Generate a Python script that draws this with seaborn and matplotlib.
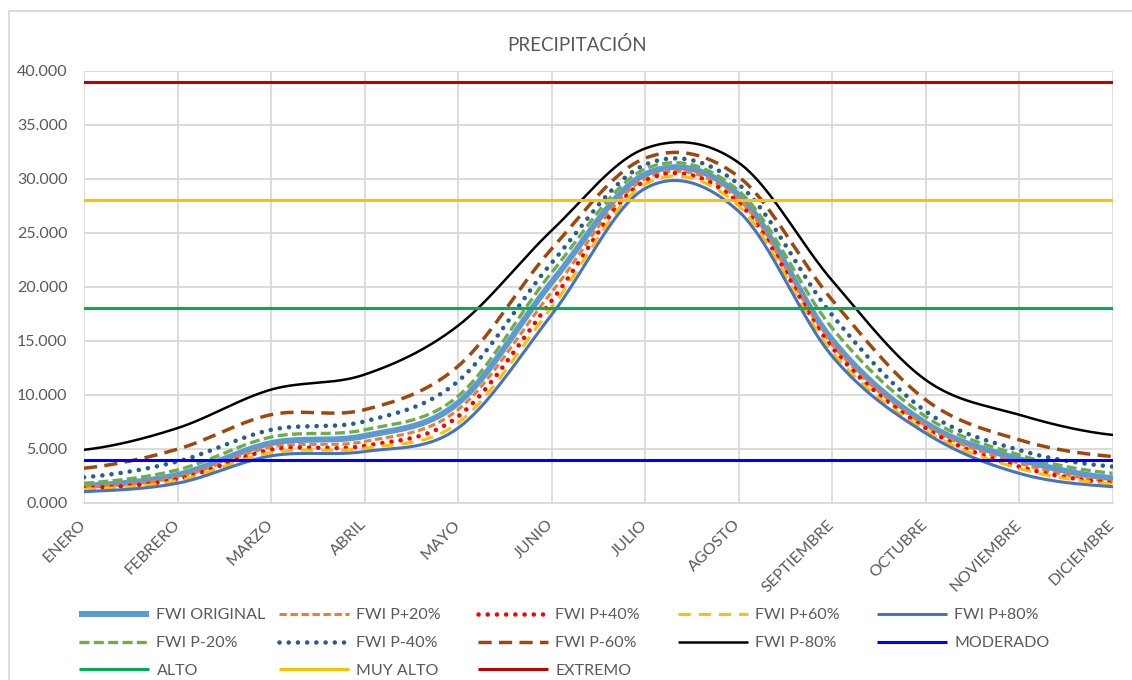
import numpy as np
import pandas as pd
import matplotlib
matplotlib.use("Agg")
import matplotlib.pyplot as plt
from matplotlib.lines import Line2D
from matplotlib.patches import Rectangle
import seaborn as sns

# ---------------- data ----------------
months = ["ENERO", "FEBRERO", "MARZO", "ABRIL", "MAYO", "JUNIO", "JULIO",
          "AGOSTO", "SEPTIEMBRE", "OCTUBRE", "NOVIEMBRE", "DICIEMBRE"]

fwi_original = [1.58, 2.60, 5.54, 6.20, 9.25, 20.4, 30.4, 28.5, 15.1, 7.40, 4.05, 2.29]
fwi_p20 = [1.45, 2.38, 5.17, 5.69, 8.63, 19.5, 30.0, 28.1, 14.7, 7.15, 3.68, 1.98]
fwi_p40 = [1.36, 2.20, 4.92, 5.29, 8.00, 18.7, 29.8, 27.8, 14.4, 6.93, 3.37, 1.85]
fwi_p60 = [1.27, 2.07, 4.67, 5.07, 7.40, 18.07, 29.5, 27.5, 14.0, 6.70, 3.20, 1.75]
fwi_p80 = [1.05, 1.83, 4.36, 4.76, 6.93, 17.4, 29.1, 27.0, 13.6, 6.47, 2.75, 1.51]
fwi_m20 = [1.83, 3.06, 6.10, 6.77, 9.87, 21.3, 30.9, 28.9, 16.2, 8.00, 4.45, 2.75]
fwi_m40 = [2.38, 3.84, 6.77, 7.55, 11.26, 22.2, 31.3, 29.5, 17.4, 8.50, 4.90, 3.37]
fwi_m60 = [3.22, 4.98, 8.17, 8.63, 12.65, 23.5, 31.9, 30.2, 18.8, 9.56, 5.85, 4.30]
fwi_m80 = [4.92, 6.93, 10.49, 11.88, 16.4, 25.2, 32.8, 31.5, 20.6, 11.4, 8.17, 6.30]

moderado = [4.0] * 12
alto = [18.0] * 12
muy_alto = [28.0] * 12
extremo = [39.0] * 12

y_ticks = [0, 5, 10, 15, 20, 25, 30, 35, 40]
y_tick_labels = [f"{v:.3f}" for v in y_ticks]

series = [
    ("FWI ORIGINAL", fwi_original),
    ("FWI P+20%", fwi_p20),
    ("FWI P+40%", fwi_p40),
    ("FWI P+60%", fwi_p60),
    ("FWI P+80%", fwi_p80),
    ("FWI P-20%", fwi_m20),
    ("FWI P-40%", fwi_m40),
    ("FWI P-60%", fwi_m60),
    ("FWI P-80%", fwi_m80),
    ("MODERADO", moderado),
    ("ALTO", alto),
    ("MUY ALTO", muy_alto),
    ("EXTREMO", extremo),
]

# ---------------- styles ----------------
styles = {
    "FWI ORIGINAL": dict(color="#5B9BD5", lw=4.3, ls="-"),
    "FWI P+20%": dict(color="#ED7D31", lw=2.2, ls=(0, (2.4, 1.2))),
    "FWI P+40%": dict(color="#FF0000", lw=3.3, ls=(0, (0.01, 2.0)), cap="round"),
    "FWI P+60%": dict(color="#FFC000", lw=2.2, ls=(0, (4.0, 2.6))),
    "FWI P+80%": dict(color="#4472C4", lw=2.2, ls="-"),
    "FWI P-20%": dict(color="#70AD47", lw=2.4, ls=(0, (3.0, 1.3))),
    "FWI P-40%": dict(color="#255E91", lw=3.3, ls=(0, (0.01, 2.0)), cap="round"),
    "FWI P-60%": dict(color="#9E480E", lw=2.5, ls=(0, (3.8, 2.1))),
    "FWI P-80%": dict(color="#000000", lw=1.8, ls="-"),
    "MODERADO": dict(color="#0000FF", lw=2.2, ls="-"),
    "ALTO": dict(color="#00B050", lw=2.2, ls="-"),
    "MUY ALTO": dict(color="#FFC000", lw=2.2, ls="-"),
    "EXTREMO": dict(color="#C00000", lw=2.2, ls="-"),
}


def smooth(vals, n=40):
    """Catmull-Rom smoothing like Excel's smoothed line."""
    y = np.asarray(vals, float)
    N = len(y)
    ext = np.concatenate([[y[0]], y, [y[-1]]])
    xs, ys = [], []
    for i in range(N - 1):
        p0, p1, p2, p3 = ext[i], ext[i + 1], ext[i + 2], ext[i + 3]
        m1 = (p2 - p0) / 2.0
        m2 = (p3 - p1) / 2.0
        t = np.linspace(0, 1, n, endpoint=(i == N - 2))
        h00 = 2 * t**3 - 3 * t**2 + 1
        h10 = t**3 - 2 * t**2 + t
        h01 = -2 * t**3 + 3 * t**2
        h11 = t**3 - t**2
        xs.append(i + t)
        ys.append(h00 * p1 + h10 * m1 + h01 * p2 + h11 * m2)
    return np.concatenate(xs), np.concatenate(ys)


# ---------------- figure ----------------
sns.set_theme(style="white")
plt.rcParams["font.family"] = ["Lato", "DejaVu Sans"]
TXT = "#595959"

fig = plt.figure(figsize=(11.32, 6.8), dpi=100)
W, H = 1132, 680
L, R, T, B = 84, 1112.5, 70.7, 503
ax = fig.add_axes([L / W, 1 - B / H, (R - L) / W, (B - T) / H])

for name, vals in series:
    st = styles[name]
    xs, ys = smooth(vals)
    df = pd.DataFrame({"x": xs, "y": ys})
    sns.lineplot(data=df, x="x", y="y", ax=ax, color=st["color"],
                 linewidth=st["lw"], linestyle=st["ls"],
                 estimator=None, sort=False, zorder=3)
    ln = ax.lines[-1]
    if st.get("cap"):
        ln.set_dash_capstyle("round")
    else:
        ln.set_dash_capstyle("butt")

ax.set_xlim(0, 11)
ax.set_ylim(0, 40)
ax.set_xticks(range(12))
ax.set_xticklabels(months, rotation=45, ha="right", va="center",
                   rotation_mode="anchor", color=TXT, fontsize=11.5)
ax.set_yticks(y_ticks)
ax.set_yticklabels(y_tick_labels, color=TXT, fontsize=11.5)
ax.tick_params(axis="x", length=0, pad=14)
ax.tick_params(axis="y", length=0, pad=12)
ax.set_xlabel("")
ax.set_ylabel("")
ax.grid(True, color="#D9D9D9", lw=1.3, zorder=0)
ax.set_axisbelow(True)
for s in ["top", "right", "left"]:
    ax.spines[s].set_visible(False)
ax.spines["bottom"].set_color("#D9D9D9")
ax.spines["bottom"].set_linewidth(1.3)

fig.text(577 / W, 1 - 45 / H, "PRECIPITACIÓN", ha="center", va="center",
         color=TXT, fontsize=13.5)

# chart-area border
fig.patches.append(Rectangle((8.5 / W, -0.2), 1.2, 1 - 10.5 / H + 0.2,
                             transform=fig.transFigure, fill=False,
                             edgecolor="#D9D9D9", lw=1.3))

# legend: 5 equal-width columns
names = [n for n, _ in series]
for c in range(5):
    idx = [c, c + 5, c + 10]
    idx = [i for i in idx if i < len(names)]
    handles = []
    for i in idx:
        st = styles[names[i]]
        h = Line2D([0], [0], color=st["color"], lw=st["lw"], ls=st["ls"],
                   dash_capstyle="round" if st.get("cap") else "butt",
                   solid_capstyle="butt")
        handles.append(h)
    x0 = (79 + 199.5 * c) / W
    fig.legend(handles, [names[i] for i in idx], loc="upper left",
               bbox_to_anchor=(x0, 1 - 608 / H), frameon=False,
               fontsize=11.5, handlelength=4.4, handletextpad=0.45,
               labelspacing=0.86, borderpad=0, borderaxespad=0,
               labelcolor=TXT)

fig.savefig("out.png", dpi=100)
